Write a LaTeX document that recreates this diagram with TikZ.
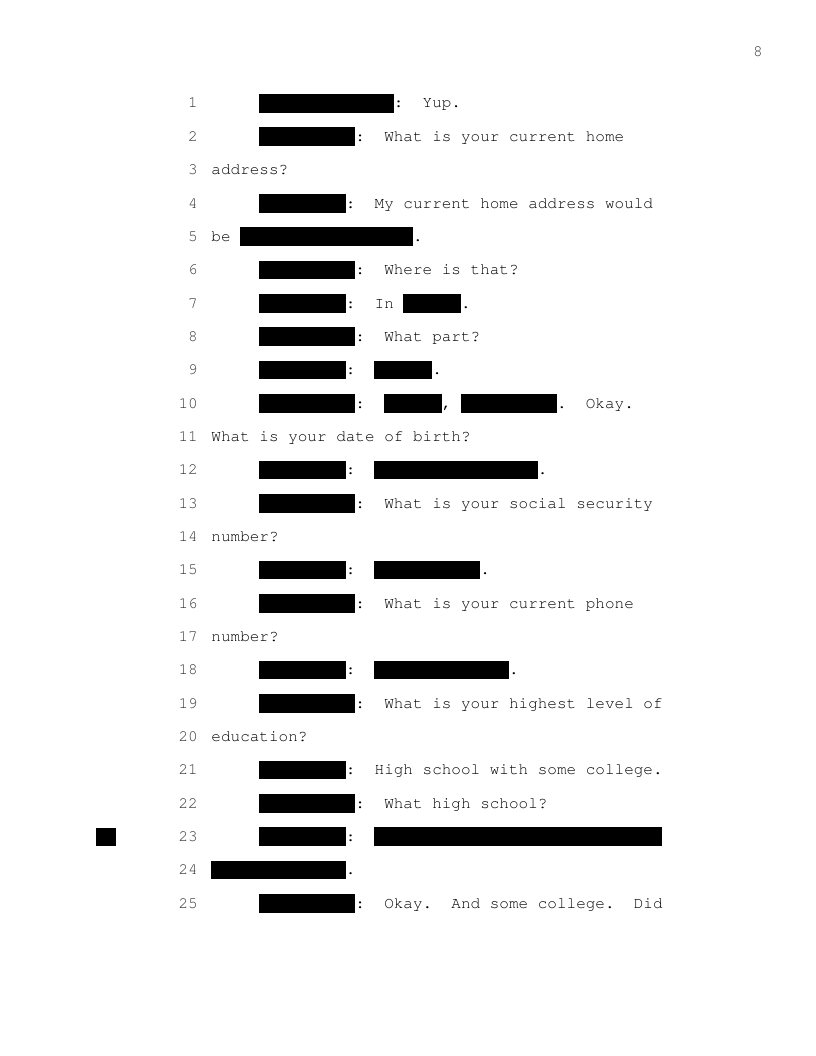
\documentclass[tikz,border=0pt]{standalone}
\usepackage[T1]{fontenc}
\usepackage{courier}

% one character cell is 9.6 units wide, one transcript line is 33.333 units high
\newcommand{\redact}[3]{\fill ({211.2+9.6*#2},{94+(#1-1)*33.333}) rectangle ({211.2+9.6*#3},{112.7+(#1-1)*33.333});}
\newcommand{\speech}[4]{\node[txt] (#1) at ({211.2+9.6*#3},{108+(#2-1)*33.333}) {#4};}

\tikzset{
    txt/.style={anchor=base west, inner sep=0pt, font=\ttfamily\fontsize{12}{14}\selectfont\frenchspacing},
    num/.style={anchor=base east, inner sep=0pt, font=\ttfamily\fontsize{12}{14}\selectfont, text=black!80},
}

\begin{document}
\begin{tikzpicture}[x=0.75pt, y=-0.75pt]
    \fill[white] (0, 0) rectangle (816, 1056);
    \useasboundingbox (0, 0) rectangle (816, 1056);

    % Page number
    \node[num, anchor=base] (page) at (758, 57) {8};

    % Line numbers
    \foreach \n in {1,...,25}
        \node[num] (n\n) at (198, {108+(\n-1)*33.333}) {\n};

    % Margin mark
    \fill (96, 828) rectangle (116, 846);

    % 1--5
    \redact{1}{5}{19}  \speech{w1}{1}{19}{:~~Yup.}
    \redact{2}{5}{15}  \speech{w2}{2}{15}{:~~What is your current home}
    \speech{w3}{3}{0}{address?}
    \redact{4}{5}{14}  \speech{w4}{4}{14}{:~~My current home address would}
    \speech{w5}{5}{0}{be}  \redact{5}{3}{21}  \speech{d5}{5}{21}{.}

    % 6--10
    \redact{6}{5}{15}  \speech{w6}{6}{15}{:~~Where is that?}
    \redact{7}{5}{14}  \speech{w7}{7}{14}{:~~In}  \redact{7}{20}{26}  \speech{d7}{7}{26}{.}
    \redact{8}{5}{15}  \speech{w8}{8}{15}{:~~What part?}
    \redact{9}{5}{14}  \speech{w9}{9}{14}{:}  \redact{9}{17}{23}  \speech{d9}{9}{23}{.}
    \redact{10}{5}{15}  \speech{w10}{10}{15}{:}  \redact{10}{18}{24}  \speech{k10}{10}{24}{,}
    \redact{10}{26}{36}  \speech{d10}{10}{36}{.~~Okay.}

    % 11--15
    \speech{w11}{11}{0}{What is your date of birth?}
    \redact{12}{5}{14}  \speech{w12}{12}{14}{:}  \redact{12}{17}{34}  \speech{d12}{12}{34}{.}
    \redact{13}{5}{15}  \speech{w13}{13}{15}{:~~What is your social security}
    \speech{w14}{14}{0}{number?}
    \redact{15}{5}{14}  \speech{w15}{15}{14}{:}  \redact{15}{17}{28}  \speech{d15}{15}{28}{.}

    % 16--20
    \redact{16}{5}{15}  \speech{w16}{16}{15}{:~~What is your current phone}
    \speech{w17}{17}{0}{number?}
    \redact{18}{5}{14}  \speech{w18}{18}{14}{:}  \redact{18}{17}{31}  \speech{d18}{18}{31}{.}
    \redact{19}{5}{15}  \speech{w19}{19}{15}{:~~What is your highest level of}
    \speech{w20}{20}{0}{education?}

    % 21--25
    \redact{21}{5}{14}  \speech{w21}{21}{14}{:~~High school with some college.}
    \redact{22}{5}{15}  \speech{w22}{22}{15}{:~~What high school?}
    \redact{23}{5}{14}  \speech{w23}{23}{14}{:}  \redact{23}{17}{47}
    \redact{24}{0}{14}  \speech{d24}{24}{14}{.}
    \redact{25}{5}{15}  \speech{w25}{25}{15}{:~~Okay.~~And some college.~~Did}
\end{tikzpicture}
\end{document}
